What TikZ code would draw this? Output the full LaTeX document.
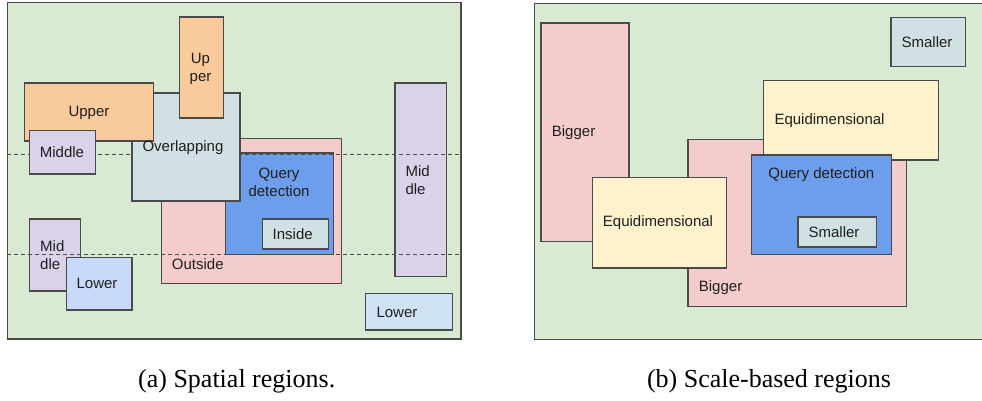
\documentclass[tikz,border=0pt]{standalone}
\usepackage{fontspec}
\setmainfont{Liberation Serif}
\newfontfamily\boxfont{Liberation Sans}
\definecolor{panelbg}{HTML}{D9EAD3}
\definecolor{edgec}{HTML}{4A4A4A}
\definecolor{orangec}{HTML}{F9CB9C}
\definecolor{pinkc}{HTML}{F4CCCC}
\definecolor{lilac}{HTML}{D9D2E9}
\definecolor{queryc}{HTML}{6D9EEB}
\definecolor{cyanc}{HTML}{D0E0E3}
\definecolor{cornc}{HTML}{C9DAF8}
\definecolor{skyc}{HTML}{CFE2F3}
\definecolor{yellowc}{HTML}{FFF2CC}
\definecolor{inkc}{HTML}{1F1F1F}
% region box: name, x1, y1, x2, y2, fill
\newcommand\regionbox[6]{%
  \node[rgn, fill=#6, minimum width={(#4-#2)*1pt}, minimum height={(#5-#3)*1pt}] (#1) at (#2,#3) {};}
\begin{document}
\begin{tikzpicture}[x=1pt, y=-1pt,
  rgn/.style={draw=edgec, line width=1.3pt, inner sep=0pt, outer sep=0pt, anchor=north west},
  lbl/.style={font=\boxfont\fontsize{15}{18}\selectfont, text=inkc, inner sep=0pt},
  captxt/.style={font=\fontsize{26}{30}\selectfont, text=black, inner sep=0pt, anchor=base},
  dashln/.style={draw=edgec, line width=1pt, dash pattern=on 4pt off 3pt}]
\useasboundingbox (0,0) rectangle (982,401);
\fill[white] (0,0) rectangle (982,401);

% ---------- (a) spatial regions ----------
\regionbox{fa}{7.3}{2.7}{461}{339}{panelbg}
\regionbox{outside}{161.3}{138.3}{341.3}{283.7}{pinkc}
\regionbox{querya}{225.3}{153}{333.3}{254.7}{queryc}
\regionbox{inside}{262.3}{219}{328.3}{249}{cyanc}
\regionbox{midr}{395}{83}{446.3}{276.7}{lilac}
\regionbox{lowr}{365.7}{293.7}{452.3}{330}{skyc}
\coordinate (d1a) at (7.3,154);
\coordinate (d1b) at (461,154);
\draw[dashln] (d1a) -- (d1b);
\regionbox{overl}{132}{93}{240}{201}{cyanc}
\regionbox{upw}{24.3}{83}{153.7}{141}{orangec}
\regionbox{upt}{179.3}{17}{223.3}{118}{orangec}
\regionbox{midw}{29.7}{130.3}{95.3}{174}{lilac}
\regionbox{midl}{29.7}{219}{80.7}{291}{lilac}
\regionbox{lowl}{66.3}{257.3}{132}{310}{cornc}
\coordinate (d2a) at (7.3,254.7);
\coordinate (d2b) at (461,254.7);
\draw[dashln] (d2a) -- (d2b);

\node[lbl] (tupw) at (89,112.5) {Upper};
\node[lbl, align=center] (tupt) at (200.5,68.5) {Up\\per};
\node[lbl] (tovl) at (183,148) {Overlapping};
\node[lbl] (tmidw) at (62,152.3) {Middle};
\node[lbl, align=center] (tqa) at (279,182.3) {Query\\detection};
\node[lbl] (tins) at (292.7,234.3) {Inside};
\node[lbl, anchor=west] (tout) at (171.7,264.3) {Outside};
\node[lbl, anchor=west, align=left] (tmidl) at (40,255) {Mid\\dle};
\node[lbl] (tlowl) at (97,283.3) {Lower};
\node[lbl, anchor=west, align=left] (tmidr) at (405.3,180) {Mid\\dle};
\node[lbl, anchor=west] (tlowr) at (376.3,312.3) {Lower};

% ---------- (b) scale-based regions ----------
\regionbox{fb}{534.3}{3.3}{984}{339.3}{panelbg}
\regionbox{bigt}{541}{23}{629}{241.7}{pinkc}
\regionbox{smt}{891}{17.3}{965.7}{66.3}{cyanc}
\regionbox{bigw}{688}{139.7}{906.7}{306.3}{pinkc}
\regionbox{equ}{763.3}{80.3}{938.3}{160}{yellowc}
\regionbox{queryb}{751.7}{155}{891.3}{254.3}{queryc}
\regionbox{smi}{798}{217}{876.3}{247}{cyanc}
\regionbox{eql}{592.3}{177.7}{726.7}{268}{yellowc}

\node[lbl, anchor=west] (tbigt) at (551.7,132.8) {Bigger};
\node[lbl] (tsmt) at (927,42.3) {Smaller};
\node[lbl, anchor=west] (tequ) at (774.3,120.5) {Equidimensional};
\node[lbl] (tqb) at (821.3,175) {Query detection};
\node[lbl] (tsmi) at (834,231.7) {Smaller};
\node[lbl] (teql) at (658,223) {Equidimensional};
\node[lbl, anchor=west] (tbigw) at (698.7,287.8) {Bigger};

% ---------- captions ----------
\node[captxt] (capa) at (236.7,387) {(a) Spatial regions.};
\node[captxt] (capb) at (769,387) {(b) Scale-based regions};
\end{tikzpicture}
\end{document}
